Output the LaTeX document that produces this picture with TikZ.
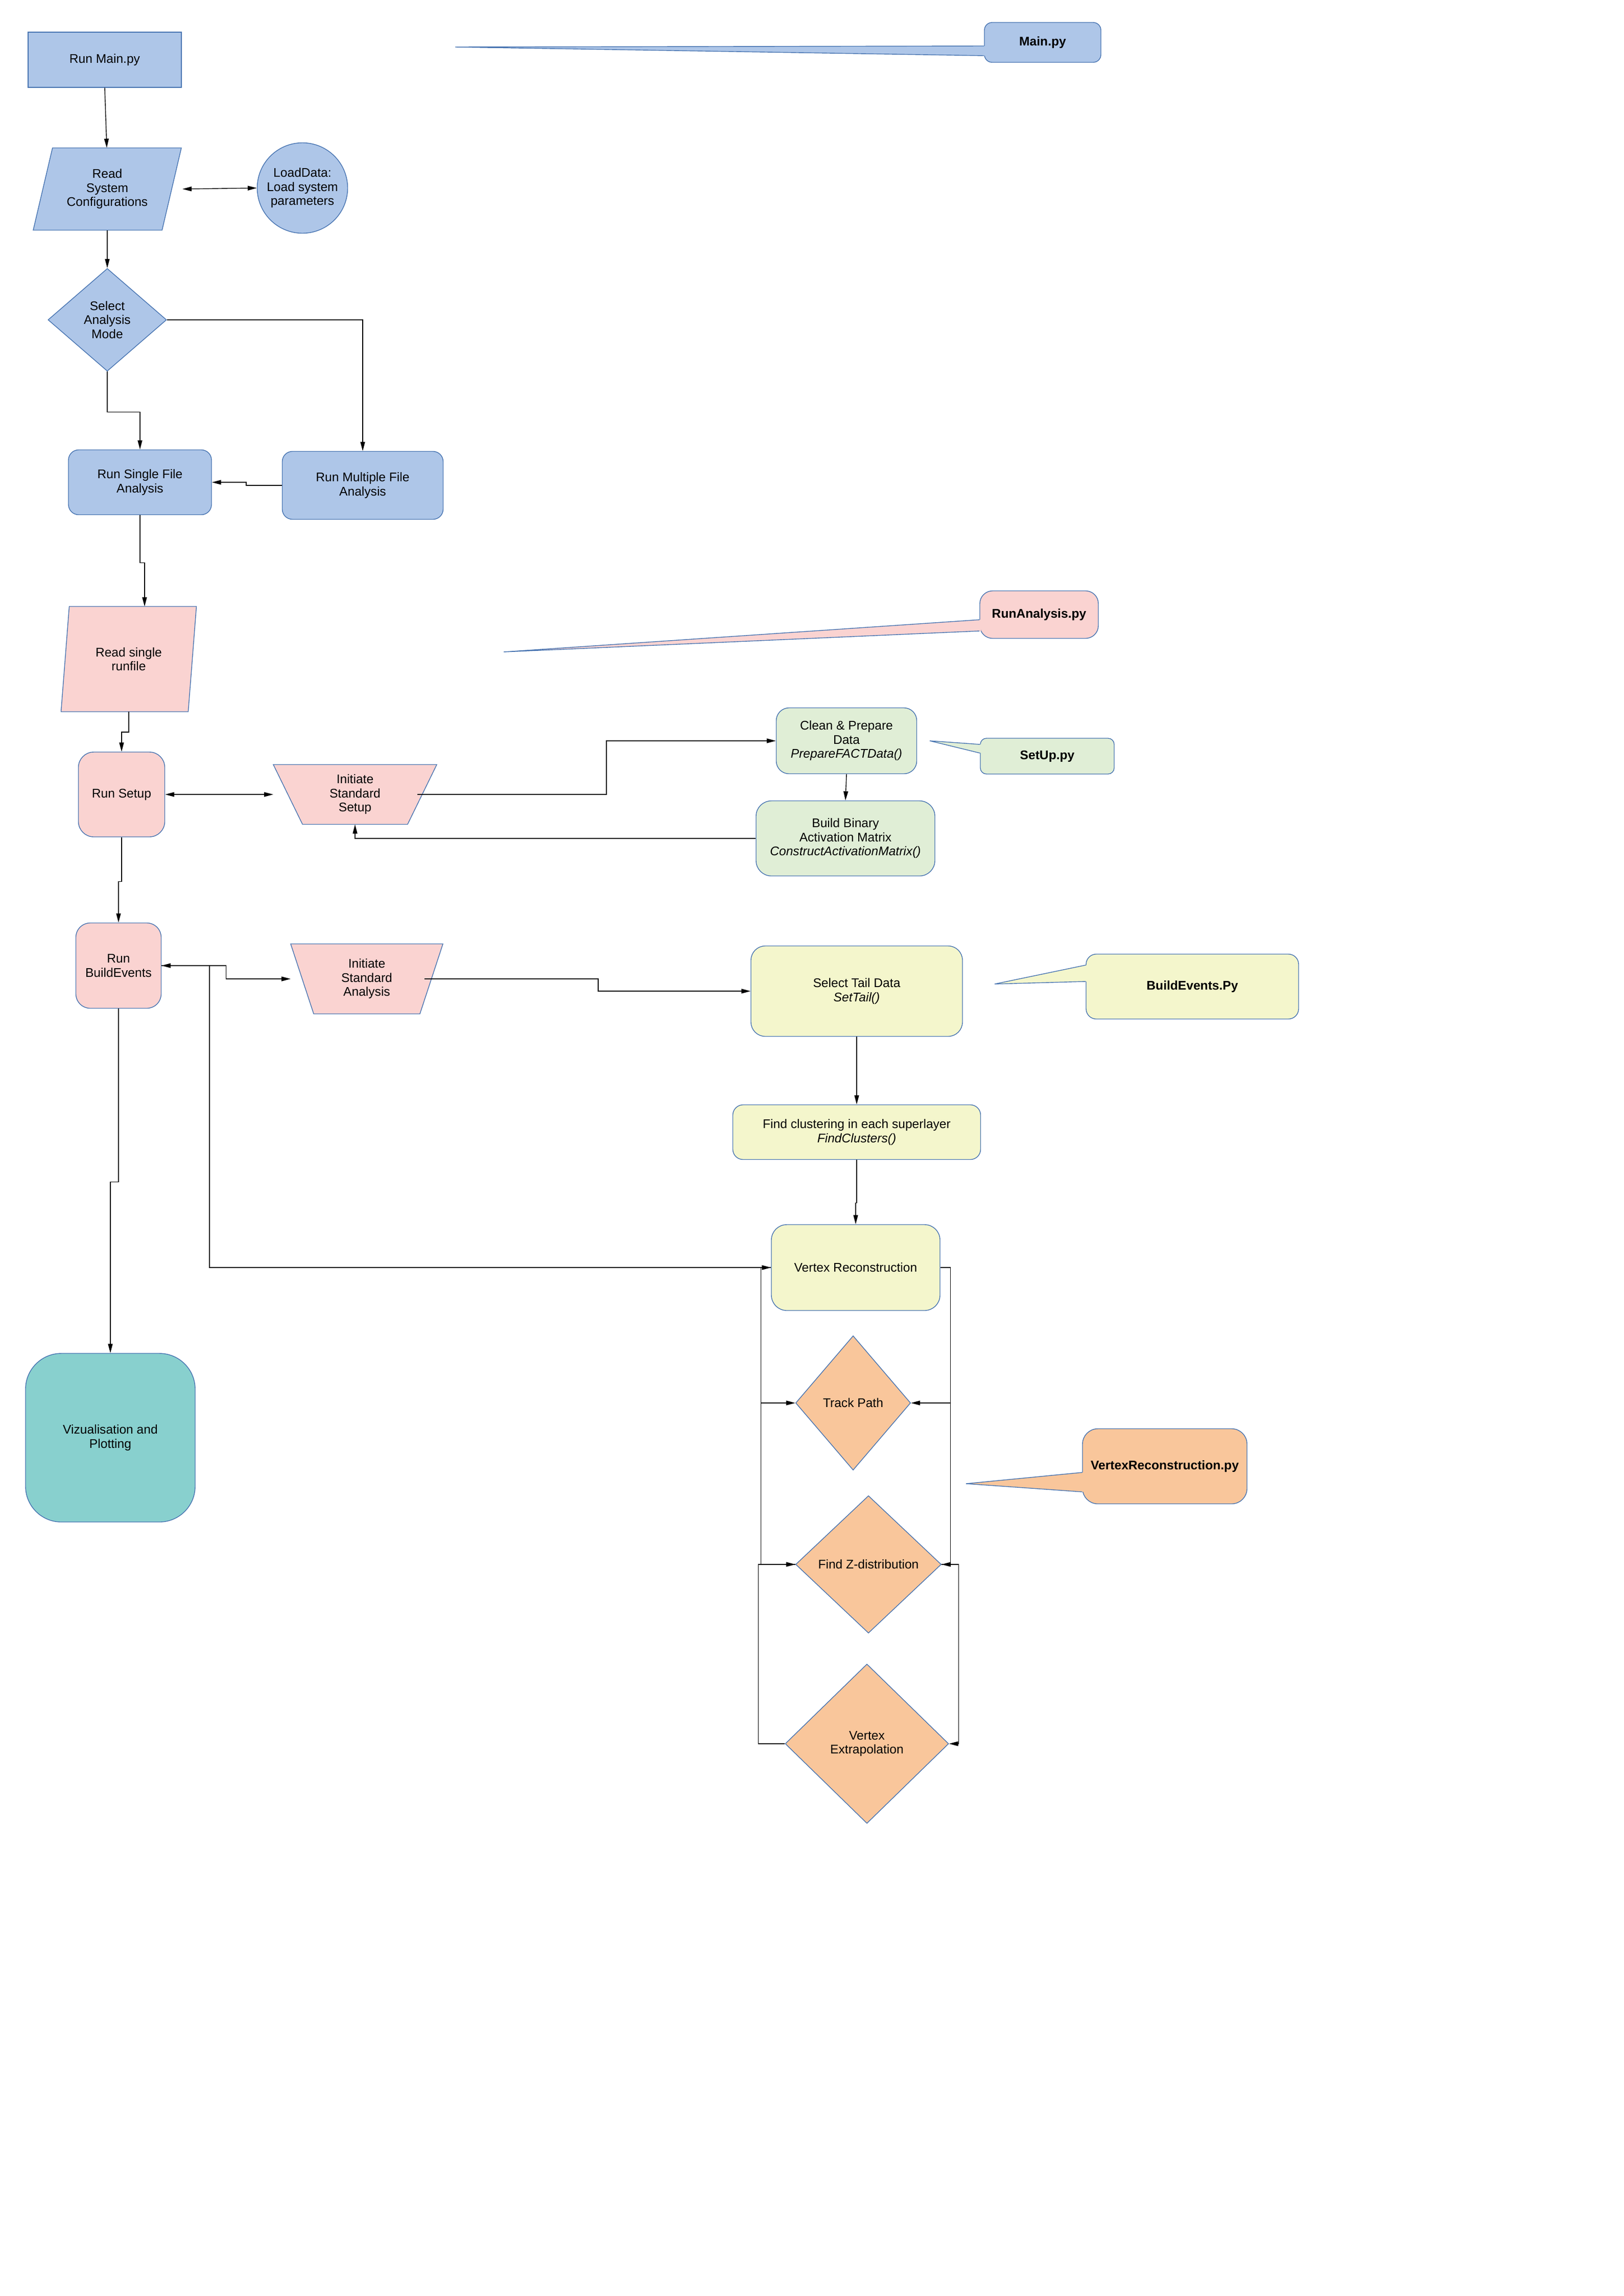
\documentclass[tikz,border=0pt]{standalone}
\usepackage{fontspec}
\setmainfont{Liberation Sans}
\usepackage{tikz}
\usetikzlibrary{calc,shapes.geometric,arrows.meta}
\definecolor{pastelblue}{RGB}{174,198,232}
\definecolor{pastelpink}{RGB}{250,211,209}
\definecolor{pastelgreen}{RGB}{224,238,214}
\definecolor{pastelyellow}{RGB}{244,246,204}
\definecolor{pastelorange}{RGB}{249,198,155}
\definecolor{pastelteal}{RGB}{136,208,206}
\definecolor{edgeblue}{RGB}{69,114,176}

\begin{document}
\begin{tikzpicture}[
    font=\fontsize{7}{7.8}\selectfont,
    shape line/.style={draw=edgeblue, line width=0.4pt, align=center, inner sep=1pt},
    procbox/.style={shape line, rectangle},
    roundbox/.style={shape line, rectangle, rounded corners=#1},
    roundbox/.default=0.25cm,
    databox/.style={shape line, trapezium, trapezium stretches body},
    choice/.style={shape line, diamond, inner sep=0pt},
    notebox/.style={shape line, rectangle, rounded corners=#1, font=\fontsize{7}{7.8}\selectfont\bfseries},
    notebox/.default=0.25cm,
    arr/.style={-{Triangle[length=0.18cm,width=0.09cm]}, line width=0.4pt},
    arrs/.style={{Triangle[length=0.18cm,width=0.09cm]}-{Triangle[length=0.18cm,width=0.09cm]}, line width=0.4pt}
]
    \fill[white] (0,0) rectangle (31.79,-44.94);
    \useasboundingbox (0,0) rectangle (31.79,-44.94);

    % Main.py: configuration and mode selection
    \node[procbox, fill=pastelblue, minimum width=3cm, minimum height=1.08cm] (runmain) at (2.05,-1.17) {Run Main.py};
    \node[databox, trapezium left angle=66, trapezium right angle=114, fill=pastelblue, minimum width=2.9cm, minimum height=1.61cm] (readsys) at (2.10,-3.70) {Read\\System\\Configurations};
    \node[shape line, circle, fill=pastelblue, minimum size=1.77cm] (loaddata) at (5.92,-3.68) {LoadData:\\Load system\\parameters};
    \node[choice, fill=pastelblue, minimum width=2.32cm, minimum height=2.01cm] (selmode) at (2.10,-6.26) {Select\\Analysis\\Mode};
    \node[roundbox=0.2cm, fill=pastelblue, minimum width=2.8cm, minimum height=1.27cm] (single) at (2.74,-9.44) {Run Single File\\Analysis};
    \node[roundbox=0.2cm, fill=pastelblue, minimum width=3.15cm, minimum height=1.33cm] (multiple) at (7.10,-9.50) {Run Multiple File\\Analysis};
    \node[notebox=0.15cm, fill=pastelblue, minimum width=2.28cm, minimum height=0.78cm] (mainpy) at (20.41,-0.83) {Main.py};

    % RunAnalysis.py and SetUp.py
    \node[databox, trapezium left angle=73, trapezium right angle=107, fill=pastelpink, minimum width=2.65cm, minimum height=2.06cm] (readrun) at (2.52,-12.90) {Read single\\runfile};
    \node[roundbox=0.3cm, fill=pastelpink, minimum width=1.69cm, minimum height=1.66cm] (setup) at (2.38,-15.55) {Run Setup};
    \node[databox, trapezium left angle=124, trapezium right angle=124, fill=pastelpink, minimum width=3.2cm, minimum height=1.17cm] (iss) at (6.95,-15.55) {Initiate\\Standard\\Setup};
    \node[roundbox, fill=pastelgreen, minimum width=2.75cm, minimum height=1.29cm] (clean) at (16.57,-14.50) {Clean \& Prepare\\Data\\\textit{PrepareFACTData()}};
    \node[roundbox=0.3cm, fill=pastelgreen, minimum width=3.5cm, minimum height=1.47cm] (binmat) at (16.55,-16.41) {Build Binary\\Activation Matrix\\\textit{ConstructActivationMatrix()}};
    \node[notebox, fill=pastelpink, minimum width=2.32cm, minimum height=0.93cm] (runpy) at (20.34,-12.03) {RunAnalysis.py};
    \node[notebox=0.12cm, fill=pastelgreen, minimum width=2.62cm, minimum height=0.70cm] (setuppy) at (20.50,-14.80) {SetUp.py};

    % BuildEvents.Py
    \node[roundbox=0.28cm, fill=pastelpink, minimum width=1.67cm, minimum height=1.67cm] (be) at (2.32,-18.90) {Run\\BuildEvents};
    \node[databox, trapezium left angle=118, trapezium right angle=118, fill=pastelpink, minimum width=2.98cm, minimum height=1.37cm] (isa) at (7.18,-19.16) {Initiate\\Standard\\Analysis};
    \node[roundbox=0.28cm, fill=pastelyellow, minimum width=4.14cm, minimum height=1.77cm] (tail) at (16.77,-19.40) {Select Tail Data\\\textit{SetTail()}};
    \node[roundbox=0.2cm, fill=pastelyellow, minimum width=4.85cm, minimum height=1.07cm] (clusters) at (16.77,-22.16) {Find clustering in each superlayer\\\textit{FindClusters()}};
    \node[roundbox=0.3cm, fill=pastelyellow, minimum width=3.3cm, minimum height=1.68cm] (vr) at (16.75,-24.81) {Vertex Reconstruction};
    \node[notebox=0.2cm, fill=pastelyellow, minimum width=4.16cm, minimum height=1.27cm] (bepy) at (23.34,-19.31) {BuildEvents.Py};
    \node[roundbox=0.7cm, fill=pastelteal, minimum width=3.32cm, minimum height=3.3cm] (vis) at (2.16,-28.14) {Vizualisation and\\Plotting};

    % VertexReconstruction.py
    \node[choice, fill=pastelorange, minimum width=2.25cm, minimum height=2.63cm] (track) at (16.70,-27.46) {Track Path};
    \node[choice, fill=pastelorange, minimum width=2.85cm, minimum height=2.69cm] (zdist) at (17.00,-30.62) {Find Z-distribution};
    \node[choice, fill=pastelorange, minimum width=3.2cm, minimum height=3.12cm] (vextr) at (16.97,-34.13) {Vertex\\Extrapolation};
    \node[notebox=0.3cm, fill=pastelorange, minimum width=3.22cm, minimum height=1.47cm] (vrpy) at (22.80,-28.70) {VertexReconstruction.py};

    % callout pointers
    \foreach \nm/\col/\tx/\ty/\ya/\yb in {mainpy/pastelblue/8.91/-0.92/-0.07/-0.26,
        runpy/pastelpink/9.86/-12.76/-0.10/-0.32,
        setuppy/pastelgreen/18.20/-14.50/0.23/0.06,
        bepy/pastelyellow/19.47/-19.26/0.42/0.10,
        vrpy/pastelorange/18.91/-29.04/-0.12/-0.50}{
        \coordinate (\nm tip) at (\tx,\ty);
        \fill[\col] (\nm tip) -- ($(\nm.west)+(0.03,\ya)$) -- ($(\nm.west)+(0.03,\yb)$) -- cycle;
        \draw[edgeblue, line width=0.4pt] ($(\nm.west)+(0,\ya)$) -- (\nm tip) -- ($(\nm.west)+(0,\yb)$);
    }

    % connectors
    \draw[arr] (runmain.south) -- ($(readsys.center)+(-0.01,0.805)$);
    \draw[arrs] ($(readsys.center)+(1.47,0)$) -- (loaddata.west);
    \draw[arr] ($(readsys.center)+(0,-0.805)$) -- (selmode.north);
    \draw[arr] (selmode.east) -| (multiple.north);
    \draw[arr] (selmode.south) -- ++(0,-0.79) -| (single.north);
    \draw[arr] (multiple.west) -- ++(-0.70,0) |- (single.east);
    \draw[arr] (single.south) -- ++(0,-0.93) -| ($(readrun.center)+(0.31,1.03)$);
    \draw[arr] ($(readrun.center)+(0,-1.03)$) -- ++(0,-0.40) -| (setup.north);
    \draw[arrs] (setup.east) -- ($(iss.center)+(-1.60,0)$);
    \draw[arr] ($(iss.center)+(1.22,0)$) -- ++(3.70,0) |- (clean.west);
    \draw[arr] (clean.south) -- (binmat.north);
    \draw[arr] (binmat.west) -| ($(iss.center)+(0,-0.585)$);
    \draw[arr] (setup.south) -- ++(0,-0.87) -| (be.north);
    \draw[arr] (be.east) -- ++(1.26,0) |- ($(isa.center)+(-1.49,0)$);
    \coordinate (bejoin) at (4.10,-18.90);
    \draw[arrs] (be.east) -- (bejoin) |- (vr.west);
    \draw[arr] ($(isa.center)+(1.13,0)$) -- ++(3.40,0) |- (tail.west);
    \draw[arr] (tail.south) -- (clusters.north);
    \draw[arr] (clusters.south) -- ++(0,-0.84) -| (vr.north);
    \draw[arr] (be.south) -- ++(0,-3.39) -| (vis.north);

    % loop round the vertex steps
    \draw[arr] (vr.west) -- ++(-0.20,0) coordinate (vrleft) |- (track.west);
    \draw[arr] (vrleft) |- (zdist.west);
    \draw[line width=0.4pt] (vextr.west) -- ++(-0.52,0) |- (zdist.west);
    \draw[arr] (vr.east) -- ++(0.20,0) coordinate (vrright) |- (track.east);
    \draw[arr] (vrright) |- (zdist.east);
    \draw[arr] (zdist.east) -- ++(0.33,0) |- (vextr.east);
\end{tikzpicture}
\end{document}
